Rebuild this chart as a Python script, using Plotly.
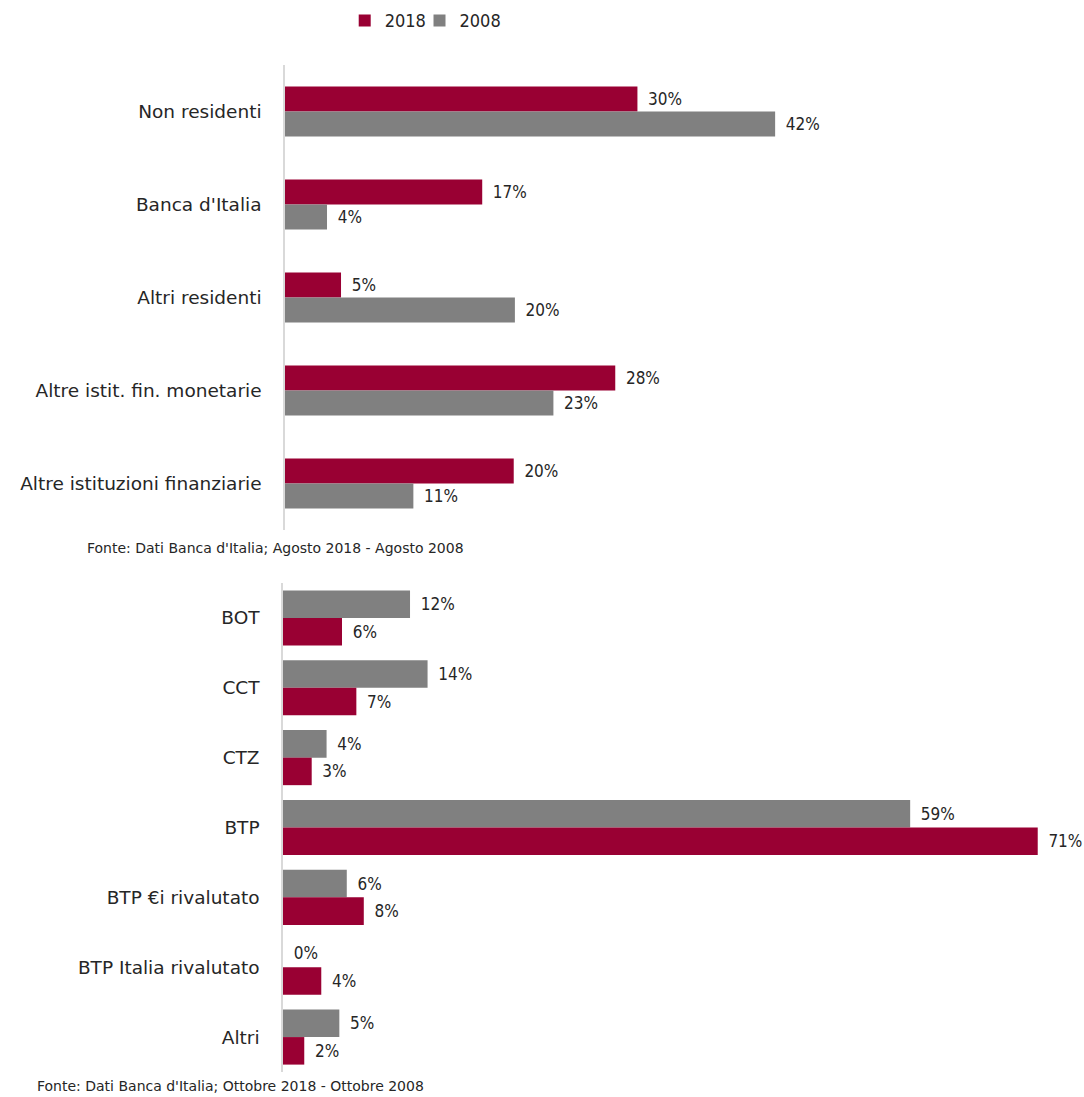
import plotly.graph_objects as go

# Top chart: holders of Italian public debt
top_categories = ["Non residenti", "Banca d'Italia", "Altri residenti",
                  "Altre istit. fin. monetarie", "Altre istituzioni finanziarie"]
top_2018 = [30.2, 16.9, 4.8, 28.3, 19.6]
top_2008 = [42.0, 3.6, 19.7, 23.0, 11.0]

# Bottom chart: composition by instrument
bot_categories = ["BOT", "CCT", "CTZ", "BTP", "BTP €i rivalutato",
                  "BTP Italia rivalutato", "Altri"]
bot_2008 = [11.95, 13.6, 4.1, 59.0, 6.0, 0.0, 5.3]
bot_2018 = [5.55, 6.9, 2.7, 71.0, 7.6, 3.6, 2.0]

series_names = ["2018", "2008"]
source_top = "Fonte: Dati Banca d'Italia; Agosto 2018 - Agosto 2008"
source_bot = "Fonte: Dati Banca d'Italia; Ottobre 2018 - Ottobre 2008"

RED = "#990033"
GRAY = "#808080"
FONT_C = "DejaVu Sans Condensed"
FONT = "DejaVu Sans"
TXT = "#262626"

fig = go.Figure()

def bar(x, y, name, color, xa, ya, show, width, offset, legend="legend"):
    return go.Bar(x=x, y=y, name=name, orientation="h", marker_color=color,
                  marker_line_width=0, xaxis=xa, yaxis=ya, showlegend=show,
                  width=width, offset=offset, legend=legend,
                  texttemplate="\u2002%{x:.0f}%", textposition="outside",
                  textfont=dict(family=FONT_C, size=17, color=TXT),
                  cliponaxis=False, legendgroup=name)

tw = 0.268
bw = 0.394
fig.add_trace(bar(top_2018, top_categories, series_names[0], RED, "x", "y", True, tw, -tw, "legend"))
fig.add_trace(bar(top_2008, top_categories, series_names[1], GRAY, "x", "y", True, tw, 0, "legend2"))
fig.add_trace(bar(bot_2008, bot_categories, series_names[1], GRAY, "x2", "y2", False, bw, -bw))
fig.add_trace(bar(bot_2018, bot_categories, series_names[0], RED, "x2", "y2", False, bw, 0))

W, H = 1084, 1097
ytick = dict(family=FONT, size=18.5, color=TXT)
legfont = dict(family=FONT_C, size=18, color=TXT)
fig.update_layout(
    width=W, height=H,
    margin=dict(l=0, r=0, t=0, b=0),
    paper_bgcolor="white", plot_bgcolor="white",
    barmode="overlay",
    font=dict(family=FONT_C, size=17, color=TXT),
    showlegend=True,
    legend=dict(orientation="h", x=0.318, xanchor="left", y=0.998, yanchor="top",
                font=legfont, bgcolor="rgba(0,0,0,0)"),
    legend2=dict(orientation="h", x=0.387, xanchor="left", y=0.998, yanchor="top",
                 font=legfont, bgcolor="rgba(0,0,0,0)"),
    xaxis=dict(domain=[285 / W, 1.0], range=[0, 799 / 11.67], visible=False,
               anchor="y"),
    yaxis=dict(domain=[(H - 530) / H, (H - 65) / H], autorange="reversed",
               anchor="x", showline=True, linecolor="#d9d9d9", linewidth=1.5,
               showgrid=False, ticks="", ticklabelstandoff=18, tickfont=ytick),
    xaxis2=dict(domain=[283 / W, 1.0], range=[0, 801 / 10.63], visible=False,
                anchor="y2"),
    yaxis2=dict(domain=[(H - 1072) / H, (H - 583) / H], autorange="reversed",
                anchor="x2", showline=True, linecolor="#d9d9d9", linewidth=1.5,
                showgrid=False, ticks="", ticklabelstandoff=18, tickfont=ytick),
    annotations=[
        dict(text=source_top, x=85 / W, y=(H - 548) / H, xref="paper", yref="paper",
             xanchor="left", yanchor="middle", showarrow=False,
             font=dict(family=FONT, size=14, color=TXT)),
        dict(text=source_bot, x=35 / W, y=(H - 1086) / H, xref="paper", yref="paper",
             xanchor="left", yanchor="middle", showarrow=False,
             font=dict(family=FONT, size=14, color=TXT)),
    ],
)

fig.write_html("out.html")
